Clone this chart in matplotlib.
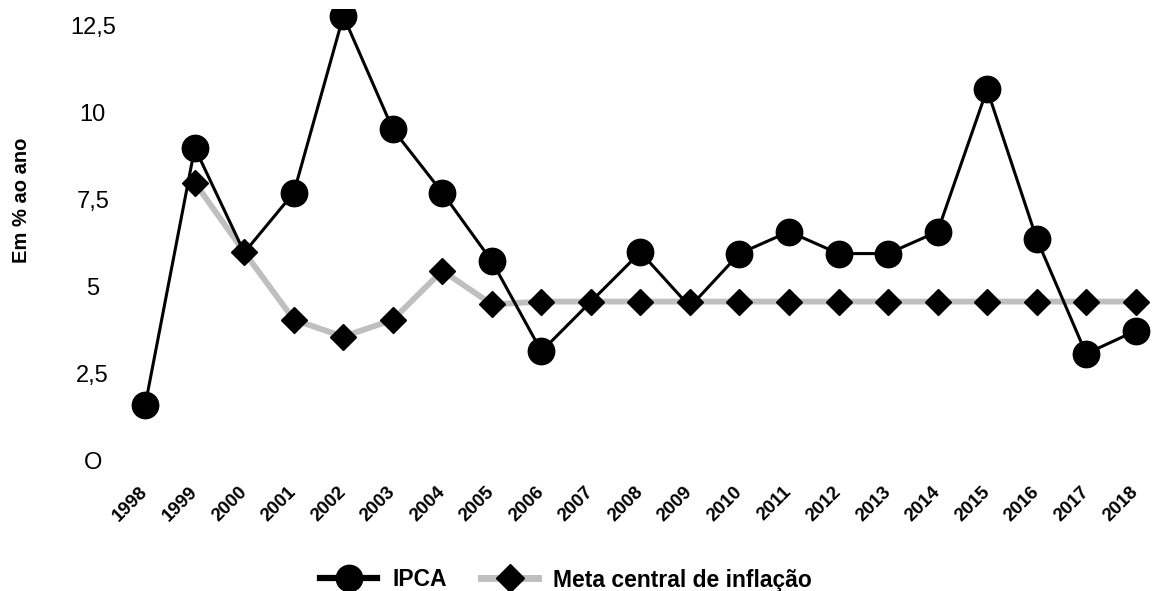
import matplotlib
matplotlib.use("Agg")
import matplotlib.pyplot as plt
from matplotlib.lines import Line2D

plt.rcParams['font.family'] = ['Liberation Sans', 'DejaVu Sans']

years = [1998, 1999, 2000, 2001, 2002, 2003, 2004, 2005, 2006, 2007, 2008,
         2009, 2010, 2011, 2012, 2013, 2014, 2015, 2016, 2017, 2018]
ipca = [1.61, 9.0, 5.99, 7.71, 12.79, 9.53, 7.71, 5.74, 3.15, 4.58, 6.0,
        4.43, 5.96, 6.59, 5.96, 5.96, 6.59, 10.68, 6.39, 3.08, 3.74]
meta_years = years[1:]
meta = [8.0, 6.0, 4.06, 3.57, 4.06, 5.47, 4.5, 4.58, 4.58, 4.58, 4.58,
        4.58, 4.58, 4.58, 4.58, 4.58, 4.58, 4.58, 4.58, 4.58]
yticks = [0, 2.5, 5, 7.5, 10, 12.5]
ytick_labels = ['O', '2,5', '5', '7,5', '10', '12,5']

# IPCA circles hidden where the target diamond sits on them
hidden = {2000, 2007, 2009}
circle_idx = [i for i, y in enumerate(years) if y not in hidden]

W, H = 1153, 591
fig = plt.figure(figsize=(W / 100, H / 100), dpi=100)
ax = fig.add_axes([120.5 / W, (H - 471.4) / H, 1030.0 / W, (471.4 - 8.6) / H])

ax.plot(meta_years, meta, color='#BFBFBF', lw=4.2, zorder=1, solid_capstyle='butt')
ax.plot(years, ipca, color='black', lw=2.2, marker='o', ms=19, zorder=2,
        markevery=circle_idx)
ax.plot(meta_years, meta, ls='none', marker='D', ms=13.5, color='black', zorder=3)

ax.set_xlim(1997.5, 2018.3)
ax.set_ylim(-0.3, 13.0)
for s in ax.spines.values():
    s.set_visible(False)

ax.set_yticks(yticks)
ax.set_yticklabels(ytick_labels, fontsize=17, ha='center')
ax.tick_params(axis='y', length=0, pad=20)
ax.set_xticks(years)
ax.set_xticklabels([str(y) for y in years], rotation=45, ha='right', va='center',
                   rotation_mode='anchor', fontsize=13.5, fontweight='bold')
ax.tick_params(axis='x', length=0, pad=13)

fig.text(22 / W, 1 - 200 / H, 'Em % ao ano', rotation=90, ha='center', va='center',
         fontsize=14.5, fontweight='bold')

h1 = Line2D([], [], color='black', lw=4.5, marker='o', ms=19)
h2 = Line2D([], [], color='#BFBFBF', lw=5, marker='D', ms=14, mfc='black', mec='black')
leg = fig.legend([h1, h2], ['IPCA', 'Meta central de inflação'], loc='center',
                 bbox_to_anchor=(566 / W, 1 - 580 / H), ncol=2, frameon=False,
                 prop={'weight': 'bold', 'size': 16.5}, handlelength=2.5,
                 handletextpad=0.65, columnspacing=1.5, borderpad=0, borderaxespad=0)

fig.savefig('out.png', dpi=100)
